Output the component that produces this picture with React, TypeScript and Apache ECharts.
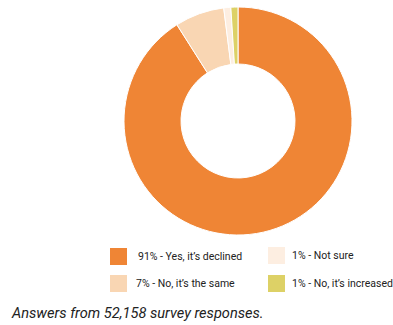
import React, { useEffect, useRef } from "react";
import * as echarts from "echarts";

const categories = [
  "91% - Yes, it’s declined",
  "7% - No, it’s the same",
  "1% - Not sure",
  "1% - No, it’s increased",
];
const values = [91, 7, 1, 1];
const colors = ["#EF8535", "#F9D6B3", "#FDEEE1", "#DDD166"];
const caption = "Answers from 52,158 survey responses.";

export default function App() {
  const ref = useRef<HTMLDivElement>(null);
  useEffect(() => {
    document.body.style.margin = "0";
    const chart = echarts.init(ref.current!, null, { renderer: "svg" });
    const legendPos = [
      { left: 108, top: 246, pad: [3, 0, 0, 5] },
      { left: 108, top: 273, pad: [0, 0, 7, 3] },
      { left: 266, top: 245, pad: [0, 0, 2, 1] },
      { left: 266, top: 273, pad: [1, 0, 0, 1] },
    ];
    chart.setOption({
      animation: false,
      color: colors,
      legend: categories.map((c, i) => ({
        data: [c],
        left: legendPos[i].left,
        top: legendPos[i].top,
        orient: "vertical",
        icon: "rect",
        itemWidth: 19,
        itemHeight: 19,
        padding: 0,
        selectedMode: false,
        textStyle: {
          fontFamily: "Roboto",
          fontSize: 10.5,
          color: "#222",
          padding: legendPos[i].pad,
        },
      })),
      graphic: [
        {
          type: "text",
          left: 12,
          top: 305,
          style: {
            text: caption,
            fontFamily: "Roboto",
            fontStyle: "italic",
            fontSize: 14.6,
            fill: "#222",
          },
        },
      ],
      series: [
        {
          type: "pie",
          center: [238, 121],
          radius: [57, 114],
          startAngle: 90,
          clockwise: true,
          label: { show: false },
          labelLine: { show: false },
          itemStyle: { borderColor: "#fff", borderWidth: 1 },
          emphasis: { disabled: true },
          data: categories.map((c, i) => ({ name: c, value: values[i] })),
        },
      ],
    });
    return () => chart.dispose();
  }, []);
  return <div ref={ref} style={{ width: 393, height: 325 }} />;
}
